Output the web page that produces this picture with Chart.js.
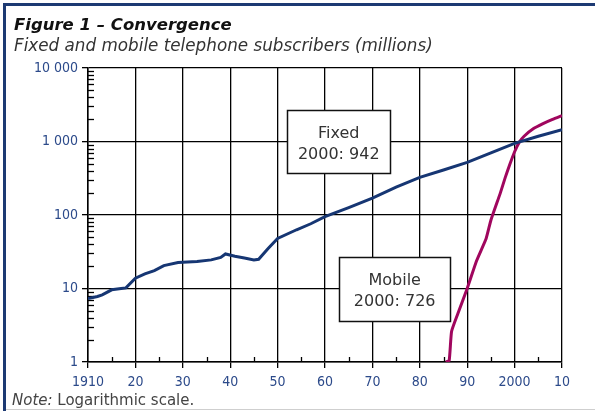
<!DOCTYPE html>
<html>
<head>
<meta charset="utf-8">
<script src="https://cdn.jsdelivr.net/npm/chart.js@4/dist/chart.umd.min.js"></script>
<style>
  html, body { margin: 0; padding: 0; background: #fff; }
  #wrap { position: relative; width: 595px; height: 411px; }
  canvas { display: block; }
</style>
</head>
<body>
<div id="wrap"><canvas id="c" width="595" height="411"></canvas></div>
<script>
// ---- data ----
const fixedYears  = [1910, 1912, 1913, 1915, 1917, 1918, 1920, 1922, 1924, 1926, 1929, 1933, 1936, 1938, 1939, 1941, 1943, 1945, 1946, 1948, 1950, 1954, 1957, 1960, 1965, 1970, 1975, 1980, 1985, 1990, 1995, 2000, 2005, 2010];
const fixedValues = [7.3, 7.8, 8.2, 9.6, 10, 10.2, 13.8, 15.8, 17.5, 20.5, 22.5, 23.3, 24.5, 26.5, 29.5, 27.5, 26, 24.5, 25, 35, 48, 63, 76, 95, 126, 170, 240, 325, 410, 519, 700, 942, 1180, 1450];
const mobileYears  = [1985.5, 1986.2, 1986.7, 1988, 1990, 1992, 1994, 1995, 1997, 1998, 1999, 2000, 2001, 2002, 2004, 2006, 2008, 2010];
const mobileValues = [1, 1.05, 2.6, 4.5, 10, 24, 48, 85, 200, 320, 490, 726, 980, 1180, 1500, 1750, 2000, 2250];
const yTickValues = [1, 10, 100, 1000, 10000];
const seriesNames = ['Fixed', 'Mobile'];
const labelTexts = [['Fixed', '2000: 942'], ['Mobile', '2000: 726']];

const NAVY = '#163673';
const MAGENTA = '#a0065e';
const LABEL = '#2c4a8a';
const NARROW = "'DejaVu Sans Condensed', 'DejaVu Sans', sans-serif";
const SANS = "'DejaVu Sans', sans-serif";

// annotation boxes anchored in data space
const boxes = [
  { x: 1962.9, y: 1000, w: 103, h: 63, lines: labelTexts[0] },
  { x: 1974.7, y: 10,   w: 111, h: 64, lines: labelTexts[1] }
];

const decor = {
  id: 'decor',
  beforeDatasetsDraw(chart) {
    const ctx = chart.ctx, xs = chart.scales.x, ys = chart.scales.y;
    ctx.save();
    ctx.strokeStyle = '#000';
    ctx.lineWidth = 1.3;
    for (let p = 1; p < 10000; p *= 10) {
      for (let k = 2; k <= 9; k++) {
        const py = Math.round(ys.getPixelForValue(k * p)) + 0.5;
        ctx.beginPath(); ctx.moveTo(xs.left, py); ctx.lineTo(xs.left + 6, py); ctx.stroke();
      }
    }
    for (let yr = 1915; yr < 2010; yr += 10) {
      const px = Math.round(xs.getPixelForValue(yr)) + 0.5;
      ctx.beginPath(); ctx.moveTo(px, ys.bottom); ctx.lineTo(px, ys.bottom - 5); ctx.stroke();
    }
    boxes.forEach(b => {
      const cx = xs.getPixelForValue(b.x), cy = ys.getPixelForValue(b.y);
      const l = Math.round(cx - b.w / 2) + 0.5, t = Math.round(cy - b.h / 2) + 0.5;
      ctx.fillStyle = '#fff';
      ctx.fillRect(l, t, b.w, b.h);
      ctx.lineWidth = 1.5; ctx.strokeStyle = '#111';
      ctx.strokeRect(l, t, b.w, b.h);
      ctx.fillStyle = '#333';
      ctx.font = '16px ' + SANS;
      ctx.textAlign = 'center'; ctx.textBaseline = 'alphabetic';
      ctx.fillText(b.lines[0], cx, cy - 4);
      ctx.fillText(b.lines[1], cx, cy + 17);
    });
    ctx.restore();
  },
  afterDraw(chart) {
    const ctx = chart.ctx;
    ctx.save();
    ctx.fillStyle = '#1d3a73';
    ctx.fillRect(3, 3, 592, 3);
    ctx.fillRect(3, 3, 3, 408);
    ctx.fillStyle = '#cfcfcf';
    ctx.fillRect(6, 409, 589, 1);
    ctx.textAlign = 'left'; ctx.textBaseline = 'alphabetic';
    ctx.fillStyle = '#111';
    ctx.font = 'italic bold 16.5px ' + SANS;
    ctx.fillText('Figure 1 \u2013 Convergence', 14, 30);
    ctx.fillStyle = '#333';
    ctx.font = 'italic 16.8px ' + SANS;
    ctx.fillText('Fixed and mobile telephone subscribers (millions)', 14, 51);
    ctx.font = 'italic 15px ' + SANS;
    ctx.fillStyle = '#444';
    ctx.fillText('Note:', 12, 405);
    const w = ctx.measureText('Note:').width;
    ctx.font = '15px ' + SANS;
    ctx.fillText(' Logarithmic scale.', 12 + w, 405);
    ctx.restore();
  }
};

function thousands(v) {
  return String(v).replace(/\B(?=(\d{3})+(?!\d))/g, ' ');
}

const tickFont = { family: NARROW, size: 14, weight: 'condensed' };

new Chart(document.getElementById('c'), {
  type: 'line',
  data: {
    datasets: [
      { label: seriesNames[0], data: fixedYears.map((x, i) => ({ x, y: fixedValues[i] })),
        borderColor: NAVY, borderWidth: 3, pointRadius: 0, tension: 0, fill: false },
      { label: seriesNames[1], data: mobileYears.map((x, i) => ({ x, y: mobileValues[i] })),
        borderColor: MAGENTA, borderWidth: 3, pointRadius: 0, tension: 0.15, fill: false }
    ]
  },
  options: {
    responsive: false,
    animation: false,
    events: [],
    layout: { padding: { top: 68, right: 33, left: 0, bottom: 0 } },
    plugins: { legend: { display: false }, title: { display: false }, tooltip: { enabled: false } },
    scales: {
      x: {
        type: 'linear', min: 1910, max: 2010,
        afterFit(s) { s.height = 49; },
        ticks: {
          stepSize: 10, maxRotation: 0, autoSkip: false, padding: 6,
          color: LABEL, font: tickFont,
          callback: v => (v === 1910 || v === 2000) ? String(v) : String(v % 100).padStart(2, '0')
        },
        grid: { color: '#000', lineWidth: 1.3, tickLength: 6, tickColor: '#000' },
        border: { color: '#000', width: 1.5 }
      },
      y: {
        type: 'logarithmic', min: 1, max: 10000,
        afterFit(s) { s.width = 88; },
        afterBuildTicks(s) { s.ticks = yTickValues.map(v => ({ value: v })); },
        ticks: {
          autoSkip: false, padding: 4,
          color: LABEL, font: tickFont,
          callback: v => thousands(v)
        },
        grid: { color: '#000', lineWidth: 1.3, tickLength: 6, tickColor: '#000' },
        border: { color: '#000', width: 1.5 }
      }
    }
  },
  plugins: [decor]
});
</script>
</body>
</html>
